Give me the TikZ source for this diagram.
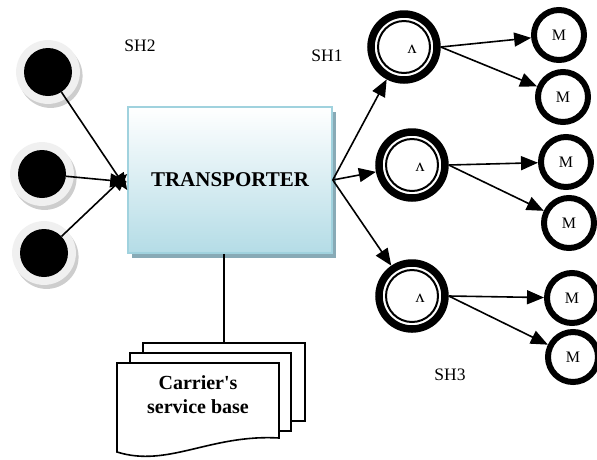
\documentclass[tikz,border=0pt]{standalone}
\usepackage{fontspec}
\setmainfont{Liberation Serif}[Ligatures=TeXOff]
\usetikzlibrary{arrows.meta,shadows,calc}

\definecolor{boxedge}{RGB}{160,210,222}
\definecolor{boxbottom}{RGB}{180,220,230}
\definecolor{boxshadow}{RGB}{136,170,182}
\definecolor{ringgray}{RGB}{240,240,240}
\definecolor{ringshadow}{RGB}{205,205,205}

\tikzset{
  source/.style={circle, fill=black, minimum size=48pt, inner sep=0pt,
    general shadow={fill=ringshadow, shadow scale=1.33, shadow xshift=2pt, shadow yshift=-3pt},
    general shadow={fill=ringgray, shadow scale=1.33}},
  hub/.style={circle, draw=black, line width=7.5pt, minimum size=66pt, inner sep=0pt,
    path picture={\draw[line width=2pt] (path picture bounding box.center) circle (26pt);},
    label={[font=\fontsize{18pt}{18pt}\selectfont, xshift=8pt, yshift=-2pt]center:ʌ}},
  sink/.style={circle, draw=black, line width=6pt, minimum size=50pt, inner sep=0pt,
    font=\fontsize{16pt}{16pt}\selectfont},
  arr/.style={line width=1.6pt, -{Triangle[length=17pt,width=14pt]}},
  tag/.style={font=\fontsize{17.5pt}{20pt}\selectfont},
  page/.style={draw=black, line width=1.6pt, fill=white}
}

\begin{document}
\begin{tikzpicture}[x=1pt, y=-1pt]
\useasboundingbox (0,0) rectangle (597,459);

% central box
\node[minimum width=204pt, minimum height=146pt, draw=boxedge, line width=1.6pt,
      top color=white, bottom color=boxbottom,
      general shadow={fill=boxshadow, shadow xshift=4pt, shadow yshift=-5pt},
      font=\bfseries\fontsize{21pt}{24pt}\selectfont] (tr) at (230,180) {TRANSPORTER};

% sources on the left
\node[source] (s1) at (48,72) {};
\node[source] (s2) at (42,174) {};
\node[source] (s3) at (44,253) {};

\draw[arr] (s1) -- ([yshift=-10pt]tr.west);
\draw[arr] (s2) -- ([yshift=-2pt]tr.west);
\draw[arr] (s3) -- ([yshift=6pt]tr.west);

% hubs
\node[hub] (d1) at (404,47) {};
\node[hub] (d2) at (412,165) {};
\node[hub] (d3) at (412,296) {};

\draw[arr] (tr.east) -- (d1);
\draw[arr] (tr.east) -- (d2);
\draw[arr] (tr.east) -- (d3);

% leaves
\node[sink] (m1) at (559,35) {M};
\node[sink] (m2) at (563,97) {M};
\node[sink] (m3) at (566,162) {M};
\node[sink] (m4) at (569,223) {M};
\node[sink] (m5) at (572,298) {M};
\node[sink] (m6) at (573,357) {M};

\draw[arr] (d1.east) -- (m1);
\draw[arr] (d1.east) -- (m2);
\draw[arr] (d2.east) -- (m3);
\draw[arr] (d2.east) -- (m4);
\draw[arr] (d3.east) -- (m5);
\draw[arr] (d3.east) -- (m6);

% labels
\node[tag] (sh2) at (140,46) {SH2};
\node[tag] (sh1) at (327,56) {SH1};
\node[tag] (sh3) at (450,375) {SH3};

% document stack
\coordinate (doctop) at (224,343);
\draw[line width=1.6pt] (tr.south -| doctop) -- (doctop);
\draw[page] (143,343) rectangle (305,421);
\draw[page] (130,353) rectangle (291,431);
\draw[page] (117,363) -- (279,363) -- (279,438)
  .. controls (210,434) and (168,468) .. (117,452) -- cycle;
\node[font=\bfseries\fontsize{20pt}{24pt}\selectfont, align=center] (doc) at (198,395)
  {Carrier's\\service base};
\end{tikzpicture}
\end{document}
